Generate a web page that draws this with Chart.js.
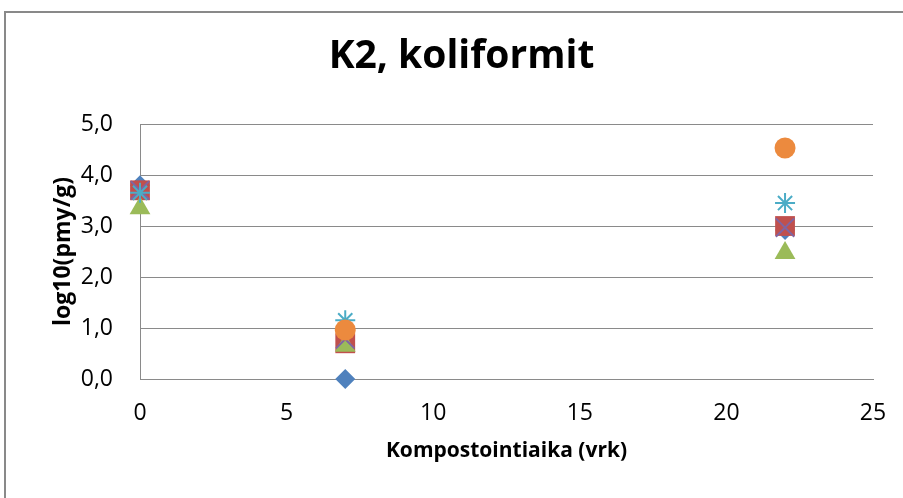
<!DOCTYPE html>
<html>
<head>
<meta charset="utf-8">
<script src="https://cdn.jsdelivr.net/npm/chart.js@4"></script>
<style>
  body { margin: 0; background: #fff; }
  canvas { display: block; }
</style>
</head>
<body>
<canvas id="chart" width="903" height="498"></canvas>
<script>
// composting days
const days = [0, 7, 22];
// log10(pmy/g) per sample, null = no value
const s1 = [3.8, 0.0, 2.92];
const s2 = [3.7, 0.7, 3.0];
const s3 = [3.35, 0.65, 2.47];
const s4 = [3.7, 0.78, 2.97];
const s5 = [3.65, 1.15, 3.45];
const s6 = [null, 0.96, 4.53];
const yTicks = [0, 1, 2, 3, 4, 5];
const xTicks = [0, 5, 10, 15, 20, 25];

function pts(vals) {
  return days.map((d, i) => ({ x: d, y: vals[i] })).filter(p => p.y !== null);
}

const frame = {
  id: 'frame',
  beforeDraw(chart) {
    const c = chart.ctx;
    c.save();
    c.fillStyle = '#fff';
    c.fillRect(0, 0, chart.width, chart.height);
    c.strokeStyle = '#898989';
    c.lineWidth = 2;
    c.strokeRect(5, 12, chart.width + 20, chart.height + 20);
    c.restore();
  }
};

const grey = '#8a8a8a';
// later series drawn on top, like the original
const ds = (i, vals, color, style, r, fill) => ({
  label: String(i),
  data: pts(vals),
  order: 10 - i,
  pointStyle: style,
  pointRadius: r,
  pointHoverRadius: r,
  backgroundColor: fill ? color : 'transparent',
  borderColor: color,
  borderWidth: fill ? 0 : 2,
  showLine: false,
  clip: false
});

new Chart(document.getElementById('chart').getContext('2d'), {
  type: 'scatter',
  data: {
    datasets: [
      ds(1, s1, '#4F81BD', 'rectRot', 10, true),
      ds(2, s2, '#C0504D', 'rect', 14, true),
      ds(3, s3, '#9BBB59', 'triangle', 12, true),
      ds(4, s4, '#8064A2', 'crossRot', 13, false),
      ds(5, s5, '#4BACC6', 'star', 10, false),
      ds(6, s6, '#EC8A3E', 'circle', 10.5, true)
    ]
  },
  options: {
    responsive: false,
    animation: false,
    layout: { padding: { left: 50, right: 30, top: 0, bottom: 0 } },
    plugins: {
      legend: { display: false },
      tooltip: { enabled: false },
      title: {
        display: true,
        text: 'K2, koliformit',
        color: '#000',
        font: { family: 'Open Sans', size: 39, weight: 'bold' },
        padding: { top: 33.6, bottom: 43.6 }
      }
    },
    scales: {
      x: {
        type: 'linear',
        min: 0,
        max: 25,
        afterBuildTicks: s => { s.ticks = xTicks.map(v => ({ value: v })); },
        afterFit: s => { s.height = 119; s.paddingLeft = 0; s.paddingRight = 0; },
        grid: { display: false, drawTicks: false },
        border: { display: true, color: grey, width: 1 },
        ticks: {
          padding: 21,
          color: '#000',
          font: { family: 'Open Sans', size: 23 }
        },
        title: {
          display: true,
          text: 'Kompostointiaika (vrk)',
          color: '#000',
          font: { family: 'Open Sans', size: 21, weight: 'bold' },
          padding: { top: 0, bottom: 34 }
        }
      },
      y: {
        type: 'linear',
        min: 0,
        max: 5,
        afterBuildTicks: s => { s.ticks = yTicks.map(v => ({ value: v })); },
        afterFit: s => { s.width = 90; },
        grid: { color: grey, lineWidth: 1, drawTicks: false },
        border: { display: true, color: grey, width: 1 },
        ticks: {
          padding: 27,
          color: '#000',
          font: { family: 'Open Sans', size: 23 },
          callback: v => v.toFixed(1).replace('.', ',')
        },
        title: {
          display: true,
          text: 'log10(pmy/g)',
          color: '#000',
          font: { family: 'Open Sans', size: 23, weight: 'bold' },
          padding: { top: 0, bottom: 0 }
        }
      }
    }
  },
  plugins: [frame]
});
</script>
</body>
</html>
